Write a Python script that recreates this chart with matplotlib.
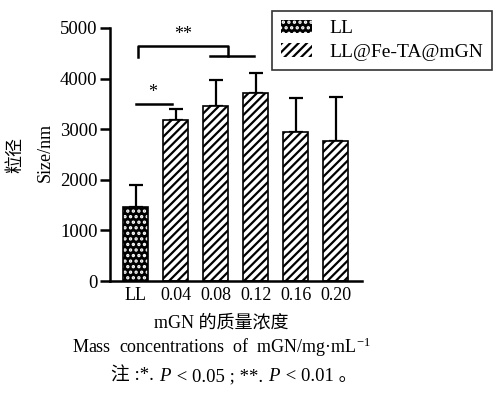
import matplotlib
matplotlib.use("Agg")
import matplotlib.pyplot as plt
from matplotlib.patches import Patch

plt.rcParams['font.family'] = ['Liberation Serif', 'Noto Sans CJK SC']
plt.rcParams['mathtext.fontset'] = 'custom'
plt.rcParams['mathtext.rm'] = 'Liberation Serif'
plt.rcParams['mathtext.it'] = 'Liberation Serif:italic'
plt.rcParams['hatch.linewidth'] = 1.6

categories = ['LL', '0.04', '0.08', '0.12', '0.16', '0.20']
sizes = [1460, 3180, 3460, 3720, 2950, 2770]
errors = [440, 210, 510, 400, 670, 870]

fig = plt.figure(figsize=(5, 3.96), dpi=100)
ax = fig.add_axes([0.22, 0.2904, 0.504, 0.6389])

x = list(range(len(categories)))
w = 0.625

# upper error bars only
ax.errorbar(x, sizes, yerr=[[0] * len(x), errors], fmt='none', ecolor='black',
            elinewidth=1.6, capsize=5, capthick=1.6, zorder=1)

# LL: black with white dots
ax.bar(x[0], sizes[0], w, color='black', edgecolor='white', hatch='...', linewidth=0, zorder=2)
ax.bar(x[0], sizes[0], w, fill=False, edgecolor='black', linewidth=1.2, zorder=3)
# LL@Fe-TA@mGN: diagonal stripes
ax.bar(x[1:], sizes[1:], w, color='white', edgecolor='black', hatch='////', linewidth=1.2, zorder=2)

# significance brackets
ax.plot([0, 0.9], [3500, 3500], color='black', lw=1.8, clip_on=False)
ax.text(0.42, 3560, '*', ha='center', va='bottom', fontsize=13)
ax.plot([0.05, 0.05, 2.3, 2.3], [4430, 4650, 4650, 4450], color='black', lw=1.8, clip_on=False)
ax.plot([1.85, 2.95], [4450, 4450], color='black', lw=1.8, clip_on=False)
ax.text(1.2, 4700, '**', ha='center', va='bottom', fontsize=13)

ax.set_xlim(-0.64, 5.66)
ax.set_ylim(0, 5000)
ax.set_yticks([0, 1000, 2000, 3000, 4000, 5000])
ax.set_xticks(x)
ax.set_xticklabels(categories)
ax.tick_params(axis='x', length=0, labelsize=13, pad=4)
ax.tick_params(axis='y', length=7, width=1.8, labelsize=13.5, pad=2)
for s in ['top', 'right']:
    ax.spines[s].set_visible(False)
for s in ['left', 'bottom']:
    ax.spines[s].set_linewidth(1.8)

handles = [Patch(facecolor='black', edgecolor='white', hatch='...', linewidth=0),
           Patch(facecolor='white', edgecolor='black', hatch='////', linewidth=0)]
leg = fig.legend(handles, ['LL', 'LL@Fe-TA@mGN'], loc='upper left',
                 bbox_to_anchor=(0.544, 0.972), fontsize=14, frameon=True,
                 fancybox=False, edgecolor='black', handlelength=1.6, handleheight=0.7,
                 borderpad=0.45, labelspacing=0.3, handletextpad=0.9, borderaxespad=0)
leg.get_frame().set_linewidth(1.2)

fig.text(0.032, 0.609, '粒径', rotation=90, ha='center', va='center', fontsize=13)
fig.text(0.09, 0.614, 'Size/nm', rotation=90, ha='center', va='center', fontsize=13)

fig.text(0.442, 0.184, 'mGN 的质量浓度', ha='center', va='center', fontsize=13)
fig.text(0.443, 0.124, 'Mass  concentrations  of  mGN/mg·mL$^{-1}$', ha='center', va='center', fontsize=13)

# note line, built from pieces so the CJK signs and the italic P both render
pieces = ['注 :*. ', '$P$', ' < 0.05 ; **. ', '$P$', ' < 0.01 。']
renderer = fig.canvas.get_renderer()
xpos = 0.222
for p in pieces:
    tt = fig.text(xpos, 0.038, p, ha='left', va='baseline', fontsize=13.5)
    bb = tt.get_window_extent(renderer)
    xpos = fig.transFigure.inverted().transform((bb.x1, bb.y0))[0]

fig.savefig('out.png', dpi=100)
